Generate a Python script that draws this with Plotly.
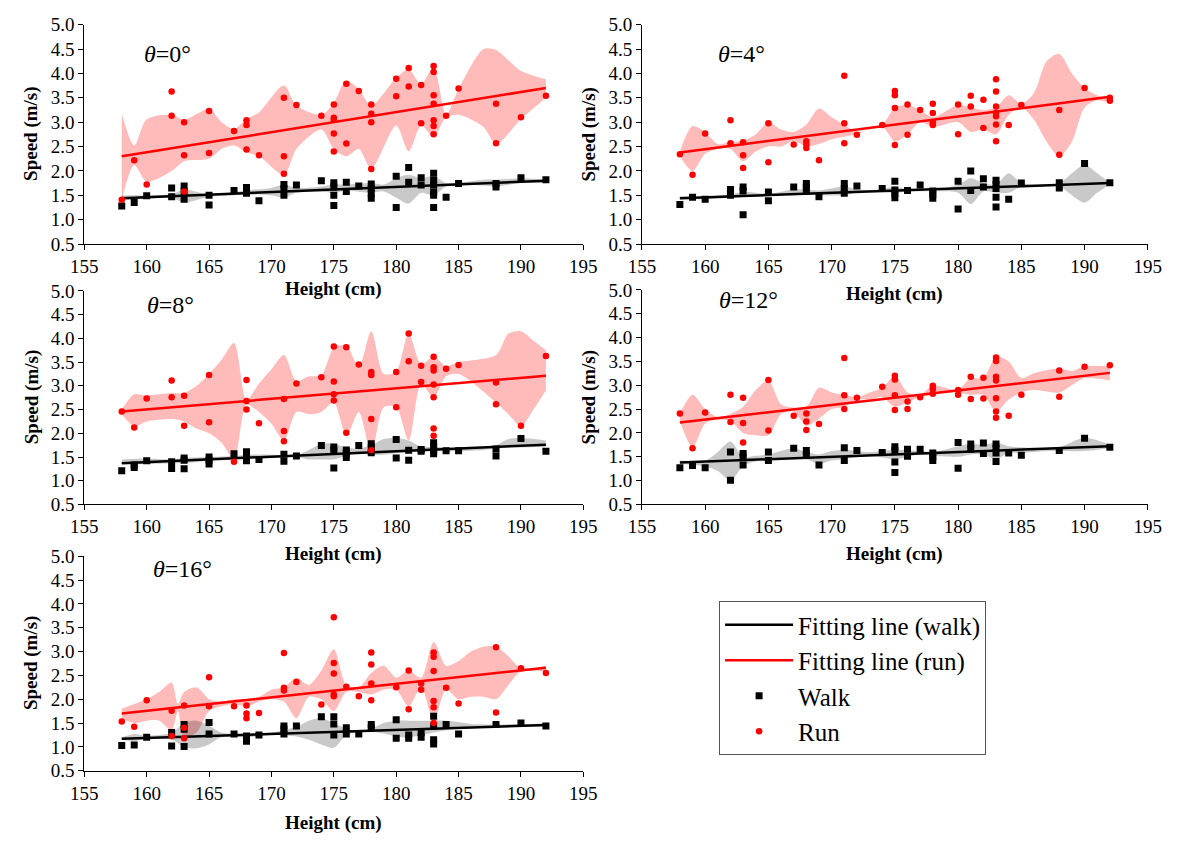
import plotly.graph_objects as go

# ---------------- data ----------------
HEIGHT_TICKS = [155, 160, 165, 170, 175, 180, 185, 190, 195]
SPEED_TICKS = [0.5, 1.0, 1.5, 2.0, 2.5, 3.0, 3.5, 4.0, 4.5, 5.0]
ANGLES = ["0°", "4°", "8°", "12°", "16°"]
FIT_X = [158, 192]

# Panel 1 (theta = 0)
P1_WALK_X = [158,159,160,162,162,163,163,163,165,165,167,168,168,168,169,171,171,171,172,174,175,175,175,175,176,176,177,178,178,178,178,180,180,181,181,182,182,183,183,183,183,183,183,184,185,188,188,190,192]
P1_WALK_Y = [1.28,1.35,1.49,1.65,1.47,1.69,1.58,1.42,1.50,1.30,1.60,1.66,1.60,1.54,1.39,1.72,1.64,1.50,1.71,1.80,1.76,1.67,1.50,1.29,1.77,1.58,1.69,1.73,1.64,1.54,1.44,1.89,1.25,2.07,1.77,1.86,1.71,1.95,1.81,1.71,1.57,1.50,1.25,1.46,1.74,1.74,1.67,1.86,1.82]
P1_RUN_X = [158,159,160,162,162,163,163,163,165,165,167,168,168,168,169,171,171,171,172,174,175,175,175,175,175,176,176,177,178,178,178,178,180,180,181,181,182,182,183,183,183,183,183,183,183,184,185,188,188,190,192]
P1_RUN_Y = [1.41,2.22,1.72,3.63,3.13,3.00,2.32,1.58,3.23,2.37,2.82,3.04,2.94,2.44,2.32,3.50,2.30,1.94,3.35,3.13,3.36,3.09,3.05,2.77,2.40,3.79,2.56,3.64,3.36,3.17,3.00,2.04,3.89,3.53,4.11,3.73,3.76,2.98,4.15,4.03,3.55,3.38,3.04,2.92,2.75,3.13,3.69,3.38,2.57,3.10,3.54]
P1_FIT_WALK = [1.44, 1.80]
P1_FIT_RUN = [2.30, 3.70]
P1_RB_X = [158,159,160,162,163,165,166,167,168,169,171,172,174,175,176,177,178,180,181,182,183,184,185,187,188,190,192]
P1_RB_HI = [3.17,2.52,3.06,3.15,3.05,3.27,3.00,2.86,3.06,3.20,3.75,3.34,3.15,3.40,3.85,3.68,3.34,3.91,4.08,3.78,4.12,3.15,3.68,4.50,4.48,4.05,3.88]
P1_RB_LO = [1.40,2.12,1.78,2.00,2.20,2.25,2.45,2.52,2.38,2.30,1.92,2.45,2.85,2.45,2.30,2.45,2.05,2.93,2.40,2.93,2.70,3.10,3.15,2.90,2.55,3.06,3.50]
P1_WB_X = [158,160,162,163,165,167,168,170,171,172,174,175,176,178,179,180,181,182,183,184,185,187,188,190,192]
P1_WB_HI = [1.50,1.50,1.52,1.62,1.52,1.57,1.60,1.65,1.72,1.65,1.68,1.72,1.72,1.75,1.72,1.85,1.92,1.85,1.90,1.75,1.76,1.82,1.82,1.85,1.82]
P1_WB_LO = [1.40,1.43,1.45,1.35,1.47,1.50,1.52,1.50,1.45,1.55,1.58,1.55,1.60,1.55,1.58,1.45,1.33,1.55,1.50,1.68,1.72,1.70,1.68,1.75,1.75]

# Panel 2 (theta = 4)
P2_WALK_X = [158,159,160,162,162,162,163,163,163,165,165,167,168,168,168,169,171,171,171,172,174,175,175,175,175,176,177,178,178,178,180,180,181,181,182,182,183,183,183,183,183,184,185,188,188,190,192]
P2_WALK_Y = [1.31,1.46,1.42,1.62,1.55,1.50,1.67,1.59,1.10,1.57,1.39,1.67,1.74,1.67,1.59,1.47,1.74,1.64,1.54,1.69,1.64,1.79,1.61,1.54,1.45,1.60,1.71,1.59,1.52,1.44,1.79,1.22,2.00,1.60,1.84,1.67,1.81,1.72,1.64,1.46,1.26,1.42,1.75,1.76,1.65,2.15,1.76]
P2_RUN_X = [158,159,160,162,162,163,163,163,165,165,167,168,168,168,169,171,171,171,172,174,175,175,175,175,176,176,177,178,178,178,178,180,180,181,181,182,182,183,183,183,183,183,183,183,184,185,188,188,190,192,192]
P2_RUN_Y = [2.34,1.92,2.77,3.04,2.57,2.59,2.32,2.06,2.98,2.18,2.54,2.61,2.54,2.47,2.22,3.95,2.98,2.57,2.74,2.94,3.64,3.55,3.29,2.53,3.36,2.74,3.25,3.38,3.19,3.00,2.94,3.36,2.75,3.54,3.32,3.46,2.88,3.88,3.63,3.32,3.19,3.12,2.95,2.61,2.94,3.35,3.25,2.33,3.70,3.50,3.44]
P2_FIT_WALK = [1.44, 1.75]
P2_FIT_RUN = [2.38, 3.52]
P2_RB_X = [158,159,160,161,162,163,164,165,166,167,168,169,170,171,172,174,175,176,177,178,180,181,182,183,184,185,186,187,188,189,190,191,192]
P2_RB_HI = [2.40,2.92,2.80,2.55,2.60,2.62,2.75,3.00,2.85,2.80,2.95,3.28,3.10,2.95,2.80,2.95,3.30,3.35,3.25,3.10,3.35,3.30,3.25,3.30,3.55,3.38,3.60,4.25,4.40,4.00,3.70,3.55,3.48]
P2_RB_LO = [2.30,2.00,2.35,2.45,2.45,2.20,2.40,2.50,2.50,2.62,2.50,2.55,2.65,2.70,2.75,2.90,2.60,2.75,3.00,2.90,3.00,2.80,2.85,2.75,3.15,3.30,3.05,2.60,2.30,2.60,3.30,3.45,3.40]
P2_WB_X = [158,160,162,163,165,167,168,169,171,172,174,175,176,178,180,181,182,183,184,185,187,188,190,191,192]
P2_WB_HI = [1.48,1.47,1.52,1.57,1.53,1.62,1.62,1.60,1.68,1.62,1.62,1.68,1.62,1.60,1.72,1.85,1.75,1.72,1.95,1.75,1.72,1.75,2.12,1.95,1.75]
P2_WB_LO = [1.42,1.42,1.45,1.47,1.48,1.52,1.52,1.50,1.50,1.55,1.57,1.55,1.58,1.58,1.55,1.32,1.58,1.55,1.55,1.68,1.70,1.68,1.35,1.55,1.72]

# Panel 3 (theta = 8)
P3_WALK_X = [158,159,159,160,162,162,163,163,163,165,165,165,167,168,168,168,168,169,171,171,172,174,175,175,175,176,176,176,177,178,178,178,180,180,181,181,182,182,183,183,183,183,184,185,188,188,190,192]
P3_WALK_Y = [1.21,1.28,1.33,1.42,1.40,1.26,1.48,1.43,1.25,1.50,1.43,1.35,1.57,1.61,1.55,1.48,1.42,1.45,1.56,1.41,1.52,1.74,1.71,1.64,1.27,1.65,1.58,1.49,1.74,1.78,1.70,1.59,1.87,1.48,1.64,1.43,1.66,1.62,1.80,1.72,1.63,1.57,1.63,1.63,1.67,1.52,1.89,1.62]
P3_RUN_X = [158,159,160,162,162,163,163,165,165,167,168,168,168,169,171,171,171,172,174,175,175,175,175,176,176,177,178,178,178,178,180,180,181,181,182,182,183,183,183,183,183,183,183,184,185,188,188,190,192]
P3_RUN_Y = [2.46,2.12,2.73,3.11,2.76,2.79,2.16,3.23,2.23,1.40,3.12,2.68,2.50,2.21,2.72,2.05,1.83,3.05,3.18,3.83,3.09,2.82,2.69,3.81,2.01,3.45,3.29,3.23,2.30,1.64,3.29,2.55,4.10,3.52,3.42,3.08,3.61,3.39,3.32,3.03,2.76,2.10,1.95,3.36,3.44,3.07,2.61,2.16,3.63]
P3_FIT_WALK = [1.37, 1.76]
P3_FIT_RUN = [2.46, 3.21]
P3_RB_X = [158,159,160,162,163,164,165,166,167,168,169,170,171,172,173,174,175,176,177,178,179,180,181,182,183,184,185,188,189,190,191,192]
P3_RB_HI = [2.50,2.82,2.80,2.85,2.85,3.00,3.25,3.55,3.90,2.70,3.05,3.35,3.65,3.10,3.20,3.22,3.80,3.85,3.40,4.15,3.25,3.30,4.10,3.45,3.62,3.42,3.50,3.65,4.10,4.15,3.95,3.75]
P3_RB_LO = [2.40,2.15,2.25,2.30,2.25,2.10,2.00,1.80,1.45,2.60,2.45,2.20,1.85,2.45,2.40,2.45,2.65,1.95,2.45,1.60,2.55,2.55,1.85,3.05,2.75,3.20,3.25,2.65,2.40,2.15,2.50,2.90]
P3_WB_X = [158,160,162,163,165,167,168,170,172,173,174,175,176,177,178,179,180,181,182,183,185,187,188,189,190,192]
P3_WB_HI = [1.45,1.47,1.45,1.48,1.50,1.52,1.55,1.55,1.55,1.65,1.78,1.78,1.70,1.68,1.75,1.88,1.90,1.85,1.72,1.72,1.68,1.72,1.75,1.88,1.90,1.85]
P3_WB_LO = [1.35,1.35,1.37,1.37,1.42,1.45,1.47,1.48,1.50,1.45,1.45,1.45,1.52,1.58,1.55,1.55,1.58,1.60,1.62,1.62,1.62,1.65,1.68,1.70,1.70,1.72]

# Panel 4 (theta = 12)
P4_WALK_X = [158,159,160,162,162,163,163,163,165,165,167,168,168,169,171,171,172,174,175,175,175,175,176,176,177,178,178,178,180,180,181,181,182,182,183,183,183,183,184,185,188,190,192]
P4_WALK_Y = [1.27,1.32,1.27,1.60,1.01,1.57,1.50,1.33,1.60,1.42,1.68,1.63,1.53,1.33,1.69,1.42,1.63,1.59,1.71,1.63,1.39,1.17,1.66,1.51,1.66,1.58,1.50,1.42,1.80,1.26,1.77,1.66,1.79,1.57,1.77,1.68,1.58,1.40,1.58,1.53,1.63,1.89,1.70]
P4_RUN_X = [158,159,160,162,162,163,163,163,165,165,167,168,168,168,169,171,171,171,172,174,175,175,175,175,176,176,177,178,178,178,180,180,181,181,182,182,183,183,183,183,183,183,183,184,185,188,188,190,192]
P4_RUN_Y = [2.41,1.68,2.43,2.80,2.23,2.74,2.21,1.80,3.11,2.05,2.36,2.41,2.24,2.06,2.19,3.57,2.79,2.50,2.74,2.97,3.20,3.12,2.79,2.48,2.66,2.50,2.75,2.99,2.92,2.82,2.90,2.80,3.18,2.71,3.16,2.72,3.58,3.51,3.18,3.10,2.73,2.45,2.32,2.36,2.80,3.31,2.76,3.39,3.42]
P4_FIT_WALK = [1.38, 1.72]
P4_FIT_RUN = [2.22, 3.26]
P4_RB_X = [158,159,160,161,162,163,164,165,166,167,168,169,170,171,172,173,174,175,176,177,178,179,180,181,182,183,184,185,186,188,189,190,192]
P4_RB_HI = [2.40,2.80,2.50,2.33,2.40,2.55,2.90,3.10,2.60,2.53,2.55,2.95,2.85,2.80,2.75,2.85,2.95,3.20,2.85,2.80,3.00,2.95,2.90,3.15,3.15,3.60,3.50,3.15,3.25,3.35,3.30,3.40,3.40]
P4_RB_LO = [2.25,1.70,2.20,2.28,2.25,2.00,1.95,1.95,2.40,2.45,2.15,2.30,2.50,2.55,2.70,2.70,2.75,2.55,2.65,2.75,2.80,2.85,2.85,2.80,2.80,2.45,2.70,2.85,2.90,2.85,3.00,3.15,3.10]
P4_WB_X = [158,160,161,162,163,164,165,167,168,169,170,171,173,175,177,178,180,181,182,183,184,185,187,188,190,192]
P4_WB_HI = [1.42,1.42,1.60,1.82,1.50,1.52,1.55,1.68,1.60,1.55,1.62,1.65,1.60,1.65,1.62,1.60,1.72,1.78,1.75,1.80,1.72,1.70,1.68,1.70,1.90,1.75]
P4_WB_LO = [1.35,1.30,1.20,1.00,1.30,1.40,1.42,1.45,1.45,1.35,1.42,1.45,1.52,1.45,1.55,1.52,1.50,1.55,1.55,1.45,1.58,1.58,1.62,1.62,1.62,1.68]

# Panel 5 (theta = 16)
P5_WALK_X = [158,159,160,162,162,163,163,163,165,165,167,168,168,169,171,171,171,172,174,175,175,175,176,176,177,178,178,180,180,181,181,182,182,183,183,183,183,184,185,188,190,192]
P5_WALK_Y = [1.03,1.04,1.20,1.30,1.02,1.47,1.37,1.01,1.51,1.27,1.27,1.23,1.12,1.25,1.44,1.37,1.27,1.44,1.63,1.63,1.48,1.25,1.40,1.27,1.27,1.47,1.40,1.57,1.18,1.25,1.18,1.30,1.20,1.64,1.44,1.15,1.06,1.47,1.27,1.47,1.50,1.44]
P5_RUN_X = [158,159,160,162,162,163,163,163,165,165,167,168,168,168,169,171,171,171,172,174,175,175,175,175,175,176,177,178,178,178,178,180,181,181,182,182,183,183,183,183,183,183,184,185,188,188,190,192]
P5_RUN_Y = [1.53,1.42,1.98,1.76,1.23,1.87,1.40,1.18,2.46,1.85,1.85,1.87,1.70,1.60,1.71,2.97,2.24,2.18,2.36,1.89,3.72,2.76,2.54,2.10,2.06,2.26,2.06,2.98,2.73,2.33,1.98,2.25,2.60,1.79,2.33,2.20,2.98,2.89,2.59,1.96,1.83,1.50,2.24,1.91,3.09,1.72,2.65,2.55]
P5_FIT_WALK = [1.17, 1.46]
P5_FIT_RUN = [1.70, 2.66]
P5_RB_X = [158,159,160,161,162,162.5,163,164,165,166,167,168,169,170,171,172,173,174,175,176,177,178,179,180,181,182,183,184,185,186,187,188,189,190,192]
P5_RB_HI = [1.80,1.90,2.00,2.15,2.35,1.90,2.15,2.25,2.00,1.95,2.00,2.00,2.05,2.20,2.25,2.45,2.30,2.60,3.05,2.30,2.25,2.55,2.70,2.45,2.60,2.45,3.20,2.70,2.80,3.00,3.10,3.10,2.90,2.65,2.70]
P5_RB_LO = [1.60,1.50,1.55,1.55,1.35,1.75,1.20,1.30,1.75,1.85,1.90,1.85,1.95,2.00,1.95,1.60,2.05,2.00,1.75,2.15,2.15,2.10,2.20,2.20,1.85,2.25,1.55,2.20,2.00,2.05,2.05,2.00,2.30,2.58,2.58]
P5_WB_X = [158,159,160,162,163,164,165,166,168,170,172,173,174,175,176,177,178,179,180,181,183,184,185,186,188,190,192]
P5_WB_HI = [1.20,1.27,1.23,1.30,1.50,1.55,1.45,1.30,1.27,1.30,1.42,1.55,1.60,1.50,1.38,1.34,1.38,1.50,1.55,1.55,1.55,1.55,1.52,1.48,1.47,1.48,1.49]
P5_WB_LO = [1.15,1.12,1.17,1.15,1.00,0.97,1.05,1.20,1.20,1.25,1.22,1.15,1.05,0.98,1.25,1.30,1.32,1.28,1.22,1.20,1.30,1.35,1.38,1.38,1.42,1.42,1.42]

# ---------------- layout helpers (pixel geometry of 1195x850 page) ----------------
W, H = 1195, 850
PANEL_BOXES = [  # (x0, x1, ytop, ybottom) in px
    (72, 583, 15, 240),
    (643, 1161, 15, 240),
    (72, 583, 288, 507),
    (643, 1161, 287, 507),
    (72, 583, 560, 780),
]
XTITLE_Y = [286, 291, 558, 558, 834]
THETA_POS = [(157, 45), (745, 45), (160, 302), (752, 297), (173, 573)]

PANEL_DATA = [
    (P1_WALK_X, P1_WALK_Y, P1_RUN_X, P1_RUN_Y, P1_FIT_WALK, P1_FIT_RUN, P1_RB_X, P1_RB_HI, P1_RB_LO, P1_WB_X, P1_WB_HI, P1_WB_LO),
    (P2_WALK_X, P2_WALK_Y, P2_RUN_X, P2_RUN_Y, P2_FIT_WALK, P2_FIT_RUN, P2_RB_X, P2_RB_HI, P2_RB_LO, P2_WB_X, P2_WB_HI, P2_WB_LO),
    (P3_WALK_X, P3_WALK_Y, P3_RUN_X, P3_RUN_Y, P3_FIT_WALK, P3_FIT_RUN, P3_RB_X, P3_RB_HI, P3_RB_LO, P3_WB_X, P3_WB_HI, P3_WB_LO),
    (P4_WALK_X, P4_WALK_Y, P4_RUN_X, P4_RUN_Y, P4_FIT_WALK, P4_FIT_RUN, P4_RB_X, P4_RB_HI, P4_RB_LO, P4_WB_X, P4_WB_HI, P4_WB_LO),
    (P5_WALK_X, P5_WALK_Y, P5_RUN_X, P5_RUN_Y, P5_FIT_WALK, P5_FIT_RUN, P5_RB_X, P5_RB_HI, P5_RB_LO, P5_WB_X, P5_WB_HI, P5_WB_LO),
]

FONT = "Liberation Serif, Times New Roman, serif"
RUN_BAND = "rgba(255,0,0,0.27)"
WALK_BAND = "rgba(0,0,0,0.21)"

fig = go.Figure()
layout = dict(
    width=W, height=H,
    margin=dict(l=0, r=0, t=0, b=0),
    paper_bgcolor="white", plot_bgcolor="white",
    font=dict(family=FONT, color="black"),
    showlegend=True,
    legend=dict(
        x=722 / W, y=1 - 606 / H, xanchor="left", yanchor="top",
        traceorder="normal",
        bordercolor="#555555", borderwidth=1, bgcolor="white",
        font=dict(family=FONT, size=25, color="black"),
        itemwidth=68, tracegroupgap=0,
    ),
)
annotations = []

for i, (wx, wy, rx, ry, fw, fr, rbx, rbh, rbl, wbx, wbh, wbl) in enumerate(PANEL_DATA):
    n = i + 1
    xa = "x" if n == 1 else f"x{n}"
    ya = "y" if n == 1 else f"y{n}"
    x0, x1, yt, yb = PANEL_BOXES[i]
    first = (n == 1)

    # run band
    fig.add_trace(go.Scatter(x=rbx, y=rbl, mode="lines", line=dict(width=0, shape="spline", smoothing=0.8),
                             hoverinfo="skip", showlegend=False, xaxis=xa, yaxis=ya))
    fig.add_trace(go.Scatter(x=rbx, y=rbh, mode="lines", line=dict(width=0, shape="spline", smoothing=0.8),
                             fill="tonexty", fillcolor=RUN_BAND, hoverinfo="skip", showlegend=False,
                             xaxis=xa, yaxis=ya))
    # walk band
    fig.add_trace(go.Scatter(x=wbx, y=wbl, mode="lines", line=dict(width=0, shape="spline", smoothing=0.8),
                             hoverinfo="skip", showlegend=False, xaxis=xa, yaxis=ya))
    fig.add_trace(go.Scatter(x=wbx, y=wbh, mode="lines", line=dict(width=0, shape="spline", smoothing=0.8),
                             fill="tonexty", fillcolor=WALK_BAND, hoverinfo="skip", showlegend=False,
                             xaxis=xa, yaxis=ya))
    # fitting lines
    fig.add_trace(go.Scatter(x=FIT_X, y=fw, mode="lines", line=dict(color="black", width=2.5),
                             name="Fitting line (walk)", legendrank=1, showlegend=first,
                             xaxis=xa, yaxis=ya))
    fig.add_trace(go.Scatter(x=FIT_X, y=fr, mode="lines", line=dict(color="#ff0000", width=2.5),
                             name="Fitting line (run)", legendrank=2, showlegend=first,
                             xaxis=xa, yaxis=ya))
    # points
    fig.add_trace(go.Scatter(x=wx, y=wy, mode="markers", marker=dict(symbol="square", size=7, color="black"),
                             name="Walk", legendrank=3, showlegend=first, xaxis=xa, yaxis=ya))
    fig.add_trace(go.Scatter(x=rx, y=ry, mode="markers", marker=dict(symbol="circle", size=6.5, color="#ff0000"),
                             name="Run", legendrank=4, showlegend=first, xaxis=xa, yaxis=ya))

    axis_common = dict(showgrid=False, zeroline=False, showline=True, linecolor="black", linewidth=1,
                       ticks="outside", ticklen=5, tickwidth=1, tickcolor="black",
                       tickfont=dict(family=FONT, size=19, color="black"))
    layout["xaxis" if n == 1 else f"xaxis{n}"] = dict(
        axis_common, domain=[x0 / W, x1 / W], range=[155, 195], tickvals=HEIGHT_TICKS,
        anchor=ya)
    layout["yaxis" if n == 1 else f"yaxis{n}"] = dict(
        axis_common, domain=[1 - yb / H, 1 - yt / H], range=[0.5, 5.0], tickvals=SPEED_TICKS,
        tickformat=".1f", anchor=xa)

    # axis titles
    annotations.append(dict(text="<b>Height (cm)</b>", xref="paper", yref="paper",
                            x=(x0 + x1) / 2 / W, y=1 - XTITLE_Y[i] / H, xanchor="center", yanchor="middle",
                            showarrow=False, font=dict(family=FONT, size=19, color="black")))
    annotations.append(dict(text="<b>Speed (m/s)</b>", xref="paper", yref="paper",
                            x=(x0 - 54) / W, y=1 - (yt + yb) / 2 / H, xanchor="center", yanchor="middle",
                            textangle=-90, showarrow=False, font=dict(family=FONT, size=19, color="black")))
    tx, ty = THETA_POS[i]
    annotations.append(dict(text=f"<i>θ</i>={ANGLES[i]}", xref="paper", yref="paper",
                            x=tx / W, y=1 - ty / H, xanchor="center", yanchor="middle",
                            showarrow=False, font=dict(family=FONT, size=24, color="black")))

layout["annotations"] = annotations
fig.update_layout(**layout)
fig.write_html("out.html", config={"displayModeBar": False},
               post_script="document.body.style.margin='0px';")
